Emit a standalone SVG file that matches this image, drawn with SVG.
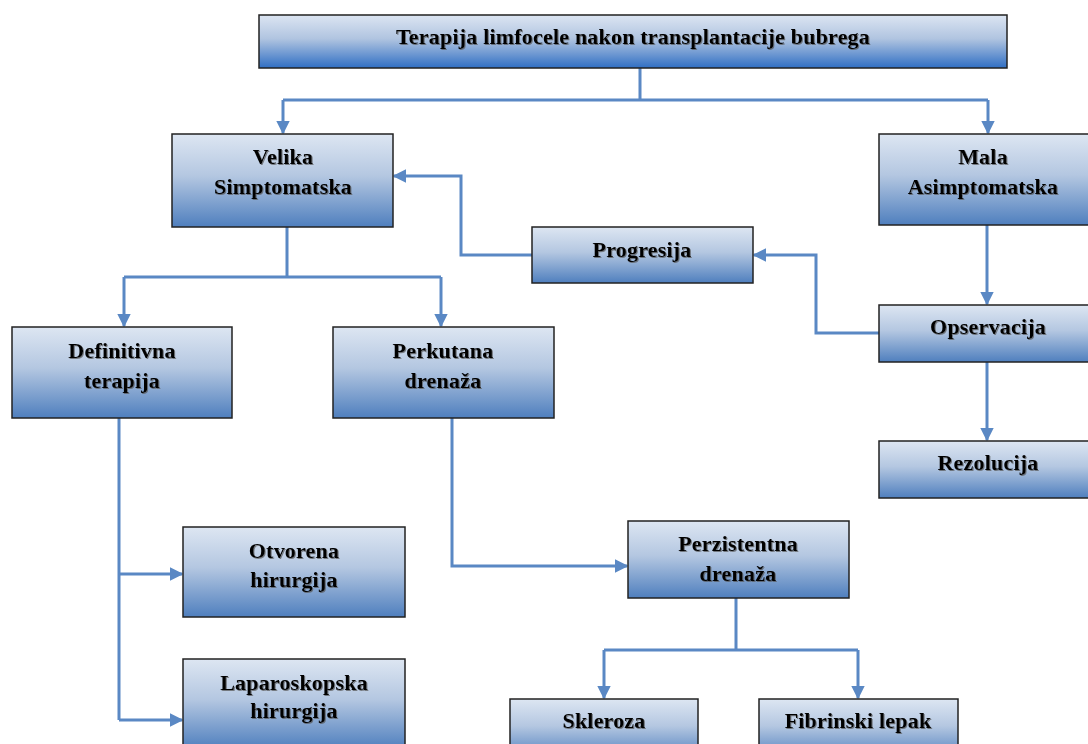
<svg xmlns="http://www.w3.org/2000/svg" width="1088" height="744" viewBox="0 0 1088 744">
<style>
.box{fill:url(#g);stroke:#222;stroke-width:1.5}
.tbox{fill:url(#gt);stroke:#222;stroke-width:1.5}
.t{font-family:"Liberation Serif","Times New Roman",serif;font-weight:bold;font-size:22px;letter-spacing:0.2px;fill:#000;text-anchor:middle;filter:url(#sh)}
.c{fill:none;stroke:#5A88C4;stroke-width:3}
.ca{fill:none;stroke:#5A88C4;stroke-width:3;marker-end:url(#ah)}
</style>
<defs>
<linearGradient id="g" x1="0" y1="0" x2="0" y2="1">
<stop offset="0" stop-color="#DDE6F2"/>
<stop offset="0.45" stop-color="#B4C7E1"/>
<stop offset="1" stop-color="#4F7FBE"/>
</linearGradient>
<linearGradient id="gt" x1="0" y1="0" x2="0" y2="1">
<stop offset="0" stop-color="#DCE5F2"/>
<stop offset="0.45" stop-color="#B0C4E0"/>
<stop offset="1" stop-color="#306FC4"/>
</linearGradient>
<filter id="sh" x="-5%" y="-20%" width="110%" height="140%">
<feDropShadow dx="1" dy="1" stdDeviation="0.6" flood-color="#555" flood-opacity="0.7"/>
</filter>
<marker id="ah" viewBox="0 0 10 10" refX="9" refY="5" markerWidth="4.6" markerHeight="4.6" markerUnits="strokeWidth" orient="auto">
<path d="M0,0 L10,5 L0,10 z" fill="#5A88C4"/>
</marker>
</defs>

<g id="connectors">
<path class="c" d="M640,68 V100 M283,100 H988"/>
<path class="ca" d="M283,100 V133"/>
<path class="ca" d="M988,100 V133"/>
<path class="c" d="M287,227 V277 M124,277 H441"/>
<path class="ca" d="M124,277 V326"/>
<path class="ca" d="M441,277 V326"/>
<path class="ca" d="M987,225 V304"/>
<path class="ca" d="M879,333 H816 V255 H754"/>
<path class="ca" d="M532,255 H461 V176 H394"/>
<path class="ca" d="M987,362 V440"/>
<path class="c" d="M119,418 V720"/>
<path class="ca" d="M119,574 H182"/>
<path class="ca" d="M119,720 H182"/>
<path class="ca" d="M452,418 V566 H627"/>
<path class="c" d="M736,598 V650 M604,650 H858"/>
<path class="ca" d="M604,650 V698"/>
<path class="ca" d="M858,650 V698"/>
</g>

<g id="n-title">
<rect class="tbox" x="259" y="15" width="748" height="53"/>
<text class="t" x="633" y="44">Terapija limfocele nakon transplantacije  bubrega</text>
</g>
<g id="n-velika">
<rect class="box" x="172" y="134" width="221" height="93"/>
<text class="t" x="283" y="164">Velika</text>
<text class="t" x="283" y="194">Simptomatska</text>
</g>
<g id="n-mala">
<rect class="box" x="879" y="134" width="212" height="91"/>
<text class="t" x="983" y="164">Mala</text>
<text class="t" x="983" y="194">Asimptomatska</text>
</g>
<g id="n-progresija">
<rect class="box" x="532" y="227" width="221" height="56"/>
<text class="t" x="642" y="257">Progresija</text>
</g>
<g id="n-opservacija">
<rect class="box" x="879" y="305" width="212" height="57"/>
<text class="t" x="988" y="334">Opservacija</text>
</g>
<g id="n-rezolucija">
<rect class="box" x="879" y="441" width="212" height="57"/>
<text class="t" x="988" y="470">Rezolucija</text>
</g>
<g id="n-definitivna">
<rect class="box" x="12" y="327" width="220" height="91"/>
<text class="t" x="122" y="358">Definitivna</text>
<text class="t" x="122" y="388">terapija</text>
</g>
<g id="n-perkutana">
<rect class="box" x="333" y="327" width="221" height="91"/>
<text class="t" x="443" y="358">Perkutana</text>
<text class="t" x="443" y="388">drenaža</text>
</g>
<g id="n-otvorena">
<rect class="box" x="183" y="527" width="222" height="90"/>
<text class="t" x="294" y="558">Otvorena</text>
<text class="t" x="294" y="587">hirurgija</text>
</g>
<g id="n-laparoskopska">
<rect class="box" x="183" y="659" width="222" height="90"/>
<text class="t" x="294" y="690">Laparoskopska</text>
<text class="t" x="294" y="718">hirurgija</text>
</g>
<g id="n-perzistentna">
<rect class="box" x="628" y="521" width="221" height="77"/>
<text class="t" x="738" y="551">Perzistentna</text>
<text class="t" x="738" y="581">drenaža</text>
</g>
<g id="n-skleroza">
<rect class="box" x="510" y="699" width="188" height="60"/>
<text class="t" x="604" y="728">Skleroza</text>
</g>
<g id="n-fibrinski">
<rect class="box" x="759" y="699" width="199" height="60"/>
<text class="t" x="858" y="728">Fibrinski lepak</text>
</g>
</svg>
